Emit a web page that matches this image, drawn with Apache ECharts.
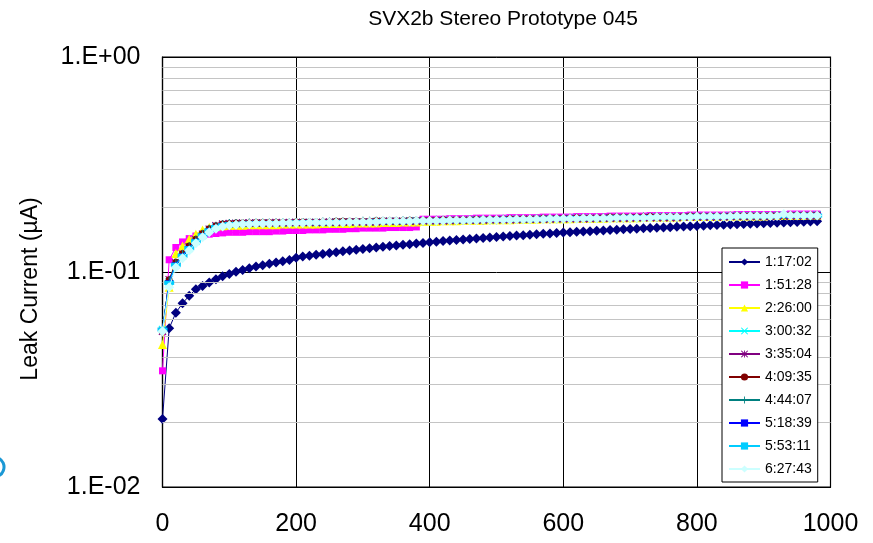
<!DOCTYPE html>
<html>
<head>
<meta charset="utf-8">
<script src="https://cdn.jsdelivr.net/npm/echarts@6/dist/echarts.min.js"></script>
<style>
  html, body { margin: 0; padding: 0; background: #fff; }
  #chart { width: 873px; height: 543px; }
</style>
</head>
<body>
<div id="chart"></div>
<script>
// Bias voltage sweep (V)
const biasVolts = [0,10,20,30,40,50,60,70,80,90,
  100,110,120,130,140,150,160,170,180,190,
  200,210,220,230,240,250,260,270,280,290,
  300,310,320,330,340,350,360,370,380,390,
  400,410,420,430,440,450,460,470,480,490,
  500,510,520,530,540,550,560,570,580,590,
  600,610,620,630,640,650,660,670,680,690,
  700,710,720,730,740,750,760,770,780,790,
  800,810,820,830,840,850,860,870,880,890,
  900,910,920,930,940,950,960,970,980];

// Leak current (µA) per scan, one array per timestamp
const scan_1_17_02 = [0.0207,0.0547,0.0647,0.0715,0.0776,0.0831,0.0860,0.0893,0.0925,0.0955,
  0.0978,0.1002,0.1022,0.1042,0.1060,0.1076,0.1092,0.1107,0.1122,0.1137,
  0.1166,0.1179,0.1191,0.1203,0.1214,0.1226,0.1237,0.1248,0.1259,0.1270,
  0.1280,0.1290,0.1300,0.1310,0.1320,0.1329,0.1338,0.1347,0.1356,0.1365,
  0.1374,0.1383,0.1392,0.1400,0.1408,0.1416,0.1424,0.1432,0.1440,0.1447,
  0.1455,0.1462,0.1469,0.1477,0.1484,0.1491,0.1498,0.1505,0.1511,0.1518,
  0.1525,0.1531,0.1537,0.1543,0.1549,0.1555,0.1561,0.1567,0.1573,0.1579,
  0.1585,0.1590,0.1596,0.1601,0.1607,0.1612,0.1617,0.1623,0.1628,0.1633,
  0.1638,0.1643,0.1648,0.1653,0.1658,0.1663,0.1667,0.1672,0.1677,0.1681,
  0.1686,0.1690,0.1695,0.1699,0.1704,0.1708,0.1712,0.1717,0.1721];

const scan_1_51_28 = [0.0347,0.114,0.130,0.138,0.143,0.147,0.149,0.150,0.151,0.152,
  0.153,0.153,0.153,0.154,0.154,0.154,0.154,0.155,0.155,0.156,
  0.156,0.156,0.157,0.157,0.157,0.158,0.158,0.158,0.159,0.159,
  0.160,0.160,0.160,0.160,0.161,0.161,0.161,0.161,0.162,0.176,
  0.176,0.176,0.176,0.177,0.177,0.177,0.177,0.178,0.178,0.178,
  0.178,0.178,0.179,0.179,0.179,0.179,0.179,0.180,0.180,0.180,
  0.180,0.180,0.181,0.181,0.181,0.181,0.181,0.182,0.182,0.182,
  0.182,0.182,0.182,0.183,0.183,0.183,0.183,0.183,0.183,0.184,
  0.184,0.184,0.184,0.184,0.184,0.184,0.185,0.185,0.185,0.185,
  0.185,0.185,0.185,0.185,0.186,0.186,0.186,0.186,0.186];

const scan_2_26_00 = [0.046,0.085,0.122,0.132,0.1425,0.150,0.157,0.161,0.163,0.164,
  0.165,0.165,0.165,0.166,0.166,0.166,0.166,0.166,0.167,0.167,
  0.167,0.167,0.167,0.167,0.168,0.168,0.168,0.168,0.168,0.169,
  0.169,0.169,0.169,0.170,0.170,0.170,0.171,0.171,0.171,0.172,
  0.172,0.172,0.173,0.173,0.173,0.174,0.174,0.174,0.174,0.175,
  0.175,0.175,0.175,0.176,0.176,0.176,0.176,0.177,0.177,0.177,
  0.177,0.177,0.178,0.178,0.178,0.178,0.178,0.179,0.179,0.179,
  0.179,0.179,0.180,0.180,0.180,0.180,0.180,0.180,0.181,0.181,
  0.181,0.181,0.181,0.181,0.182,0.182,0.182,0.182,0.182,0.182,
  0.182,0.183,0.183,0.183,0.183,0.183,0.183,0.184,0.184];

const scan_3_00_32 = [0.054,0.090,0.108,0.119,0.129,0.139,0.148,0.156,0.162,0.166,
  0.167,0.168,0.168,0.168,0.169,0.169,0.169,0.169,0.169,0.169,
  0.170,0.170,0.170,0.170,0.170,0.170,0.171,0.171,0.171,0.171,
  0.171,0.171,0.172,0.172,0.172,0.172,0.172,0.173,0.173,0.173,
  0.173,0.173,0.174,0.174,0.174,0.174,0.175,0.175,0.175,0.175,
  0.175,0.176,0.176,0.176,0.176,0.176,0.177,0.177,0.177,0.177,
  0.177,0.178,0.178,0.178,0.178,0.178,0.178,0.179,0.179,0.179,
  0.179,0.179,0.179,0.180,0.180,0.180,0.180,0.180,0.180,0.181,
  0.181,0.181,0.181,0.181,0.181,0.182,0.182,0.182,0.182,0.182,
  0.182,0.182,0.183,0.183,0.183,0.183,0.183,0.183,0.184];

const scan_3_35_04 = [0.053,0.092,0.110,0.121,0.131,0.141,0.150,0.158,0.164,0.167,
  0.168,0.168,0.169,0.169,0.169,0.169,0.169,0.170,0.169,0.170,
  0.170,0.170,0.170,0.170,0.170,0.171,0.170,0.171,0.171,0.171,
  0.171,0.171,0.171,0.172,0.172,0.172,0.172,0.172,0.172,0.173,
  0.173,0.173,0.173,0.173,0.174,0.174,0.174,0.174,0.174,0.175,
  0.175,0.175,0.175,0.175,0.176,0.176,0.176,0.176,0.176,0.177,
  0.177,0.177,0.177,0.177,0.177,0.178,0.178,0.178,0.178,0.178,
  0.178,0.179,0.179,0.179,0.179,0.179,0.179,0.179,0.180,0.180,
  0.180,0.180,0.180,0.180,0.180,0.181,0.181,0.181,0.181,0.181,
  0.181,0.181,0.182,0.182,0.182,0.182,0.182,0.182,0.183];

const scan_4_09_35 = [0.053,0.092,0.111,0.122,0.132,0.142,0.151,0.159,0.164,0.167,
  0.168,0.169,0.169,0.169,0.170,0.170,0.170,0.170,0.170,0.170,
  0.171,0.171,0.171,0.171,0.171,0.171,0.172,0.172,0.172,0.172,
  0.172,0.172,0.173,0.173,0.173,0.173,0.173,0.174,0.174,0.174,
  0.174,0.174,0.175,0.175,0.175,0.175,0.175,0.176,0.176,0.176,
  0.176,0.176,0.177,0.177,0.177,0.177,0.177,0.178,0.178,0.178,
  0.178,0.178,0.179,0.179,0.179,0.179,0.179,0.180,0.180,0.180,
  0.180,0.180,0.180,0.181,0.181,0.181,0.181,0.181,0.181,0.182,
  0.182,0.182,0.182,0.182,0.182,0.182,0.183,0.183,0.183,0.183,
  0.183,0.183,0.183,0.184,0.184,0.184,0.184,0.184,0.184];

const scan_4_44_07 = [0.053,0.091,0.110,0.121,0.131,0.141,0.150,0.158,0.163,0.166,
  0.168,0.168,0.168,0.169,0.169,0.169,0.169,0.169,0.170,0.170,
  0.170,0.170,0.170,0.170,0.171,0.171,0.171,0.171,0.171,0.171,
  0.172,0.172,0.172,0.172,0.172,0.172,0.173,0.173,0.173,0.173,
  0.173,0.174,0.174,0.174,0.174,0.174,0.175,0.175,0.175,0.175,
  0.175,0.176,0.176,0.176,0.176,0.176,0.177,0.177,0.177,0.177,
  0.177,0.178,0.178,0.178,0.178,0.178,0.179,0.179,0.179,0.179,
  0.179,0.179,0.180,0.180,0.180,0.180,0.180,0.180,0.181,0.181,
  0.181,0.181,0.181,0.181,0.181,0.182,0.182,0.182,0.182,0.182,
  0.182,0.182,0.183,0.183,0.183,0.183,0.183,0.183,0.183];

const scan_5_18_39 = [0.054,0.090,0.109,0.120,0.130,0.140,0.149,0.157,0.163,0.166,
  0.167,0.168,0.168,0.168,0.169,0.169,0.169,0.169,0.169,0.170,
  0.170,0.170,0.170,0.170,0.170,0.171,0.171,0.171,0.171,0.171,
  0.171,0.172,0.172,0.172,0.172,0.172,0.173,0.173,0.173,0.173,
  0.173,0.174,0.174,0.174,0.174,0.174,0.175,0.175,0.175,0.175,
  0.176,0.176,0.176,0.176,0.176,0.177,0.177,0.177,0.177,0.177,
  0.178,0.178,0.178,0.178,0.178,0.179,0.179,0.179,0.179,0.179,
  0.180,0.180,0.180,0.180,0.180,0.180,0.181,0.181,0.181,0.181,
  0.181,0.181,0.182,0.182,0.182,0.182,0.182,0.182,0.182,0.183,
  0.183,0.183,0.183,0.183,0.183,0.183,0.184,0.184,0.184];

const scan_5_53_11 = [0.054,0.089,0.108,0.119,0.129,0.139,0.148,0.156,0.162,0.165,
  0.167,0.167,0.168,0.168,0.168,0.169,0.169,0.169,0.169,0.169,
  0.170,0.170,0.170,0.170,0.170,0.170,0.171,0.171,0.171,0.171,
  0.171,0.171,0.172,0.172,0.172,0.172,0.172,0.173,0.173,0.173,
  0.173,0.173,0.174,0.174,0.174,0.174,0.174,0.175,0.175,0.175,
  0.175,0.175,0.176,0.176,0.176,0.176,0.176,0.177,0.177,0.177,
  0.177,0.177,0.178,0.178,0.178,0.178,0.178,0.179,0.179,0.179,
  0.179,0.179,0.179,0.180,0.180,0.180,0.180,0.180,0.180,0.181,
  0.181,0.181,0.181,0.181,0.181,0.181,0.182,0.182,0.182,0.182,
  0.182,0.182,0.182,0.183,0.183,0.183,0.183,0.183,0.183];

const scan_6_27_43 = [0.053,0.085,0.105,0.116,0.126,0.136,0.145,0.153,0.159,0.163,
  0.165,0.166,0.167,0.167,0.168,0.168,0.168,0.168,0.169,0.169,
  0.169,0.169,0.170,0.170,0.170,0.170,0.170,0.170,0.171,0.171,
  0.171,0.171,0.171,0.172,0.172,0.172,0.172,0.172,0.173,0.173,
  0.173,0.173,0.173,0.174,0.174,0.174,0.174,0.174,0.175,0.175,
  0.175,0.175,0.175,0.176,0.176,0.176,0.176,0.176,0.177,0.177,
  0.177,0.177,0.177,0.178,0.178,0.178,0.178,0.178,0.179,0.179,
  0.179,0.179,0.179,0.179,0.180,0.180,0.180,0.180,0.180,0.180,
  0.181,0.181,0.181,0.181,0.181,0.181,0.182,0.182,0.182,0.182,
  0.182,0.182,0.182,0.186,0.183,0.183,0.183,0.183,0.183];

const scanNames = ['1:17:02','1:51:28','2:26:00','3:00:32','3:35:04',
                   '4:09:35','4:44:07','5:18:39','5:53:11','6:27:43'];
const scanValues = [scan_1_17_02, scan_1_51_28, scan_2_26_00, scan_3_00_32, scan_3_35_04,
                    scan_4_09_35, scan_4_44_07, scan_5_18_39, scan_5_53_11, scan_6_27_43];

// Axis tick labels and light grid levels
const xTicks = [0, 200, 400, 600, 800, 1000];
const yTickLabels = ['1.E-02', '1.E-01', '1.E+00'];
const minorGridValues = [0.02,0.03,0.04,0.05,0.06,0.07,0.08,0.09,
                         0.2,0.3,0.4,0.5,0.6,0.7,0.8,0.9];

// Marker shapes
const X_MARK = 'path://M1,0L5,4L9,0L10,1L6,5L10,9L9,10L5,6L1,10L0,9L4,5L0,1Z';
const STAR_MARK = 'path://M1,0L5,4L9,0L10,1L6,5L10,9L9,10L5,6L1,10L0,9L4,5L0,1Z M4.4,0H5.6V10H4.4Z';
const PLUS_MARK = 'path://M4.4,0H5.6V4.4H10V5.6H5.6V10H4.4V5.6H0V4.4H4.4Z';

const scanStyles = [
  { color: '#000080', symbol: 'diamond',  size: 10 },
  { color: '#FF00FF', symbol: 'rect',     size: 7 },
  { color: '#FFFF00', symbol: 'triangle', size: 9 },
  { color: '#00FFFF', symbol: X_MARK,     size: 8 },
  { color: '#800080', symbol: STAR_MARK,  size: 8 },
  { color: '#800000', symbol: 'circle',   size: 7 },
  { color: '#008080', symbol: PLUS_MARK,  size: 9 },
  { color: '#0000FF', symbol: 'rect',     size: [8, 3] },
  { color: '#00CCFF', symbol: 'rect',     size: [10, 4] },
  { color: '#CCFFFF', symbol: 'diamond',  size: 10 }
];

const FONT = 'Liberation Sans, Arial, sans-serif';

const series = [{
  name: 'grid-minor',
  type: 'line',
  data: [],
  z: 1,
  silent: true,
  markLine: {
    silent: true,
    symbol: ['none', 'none'],
    label: { show: false },
    lineStyle: { color: '#c4c4c4', width: 1.2, type: 'solid' },
    data: minorGridValues.map(v => ({ yAxis: v }))
  }
}];

scanNames.forEach((name, k) => {
  const st = scanStyles[k];
  series.push({
    name: name,
    type: 'line',
    z: 2 + k,
    data: biasVolts.map((v, i) => [v, scanValues[k][i]]),
    symbol: st.symbol,
    symbolSize: st.size,
    showAllSymbol: true,
    lineStyle: { color: st.color, width: 1 },
    itemStyle: { color: st.color, borderWidth: 0 }
  });
});

const chart = echarts.init(document.getElementById('chart'), null, { renderer: 'canvas' });
chart.setOption({
  animation: false,
  backgroundColor: '#ffffff',
  title: {
    text: 'SVX2b Stereo Prototype 045',
    left: 498, top: 4, textAlign: 'center',
    textStyle: { fontFamily: FONT, fontSize: 21, fontWeight: 'normal', color: '#000' }
  },
  grid: {
    left: 162.5, right: 42.5, top: 57, bottom: 56,
    show: true, borderColor: '#000', borderWidth: 1.2, backgroundColor: 'transparent'
  },
  legend: {
    data: scanNames,
    orient: 'vertical',
    left: 722, top: 248,
    z: 30,
    backgroundColor: '#fff',
    borderColor: '#000', borderWidth: 1,
    padding: [7, 6, 6, 6],
    itemWidth: 31, itemHeight: 9, itemGap: 9,
    textStyle: { fontFamily: FONT, fontSize: 14, color: '#000' }
  },
  xAxis: {
    type: 'value', min: 0, max: 1000, interval: 200,
    axisLine: { show: true, lineStyle: { color: '#000', width: 1.2 } },
    axisTick: { show: false },
    axisLabel: {
      margin: 25, fontFamily: FONT, fontSize: 25, color: '#000',
      formatter: v => xTicks.includes(v) ? String(v) : ''
    },
    splitLine: { show: true, lineStyle: { color: '#000', width: 1 } }
  },
  yAxis: {
    type: 'log', logBase: 10, min: 0.01, max: 1,
    axisLine: { show: true, lineStyle: { color: '#000', width: 1.2 } },
    axisTick: { show: false },
    axisLabel: {
      margin: 22, fontFamily: FONT, fontSize: 25, color: '#000',
      formatter: v => yTickLabels[Math.round(Math.log10(v)) + 2]
    },
    splitLine: { show: true, lineStyle: { color: '#000', width: 1 } }
  },
  graphic: [
    {
      type: 'text', x: 31, y: 289, rotation: Math.PI / 2,
      style: {
        text: 'Leak Current (µA)', fontFamily: FONT, fontSize: 23, fill: '#000',
        align: 'center', verticalAlign: 'middle'
      }
    },
    {
      type: 'arc', shape: { cx: -6, cy: 467, r: 10, startAngle: -1.2, endAngle: 1.2 },
      style: { stroke: '#1b98d5', lineWidth: 3, fill: null }
    }
  ],
  series: series
});
</script>
</body>
</html>
